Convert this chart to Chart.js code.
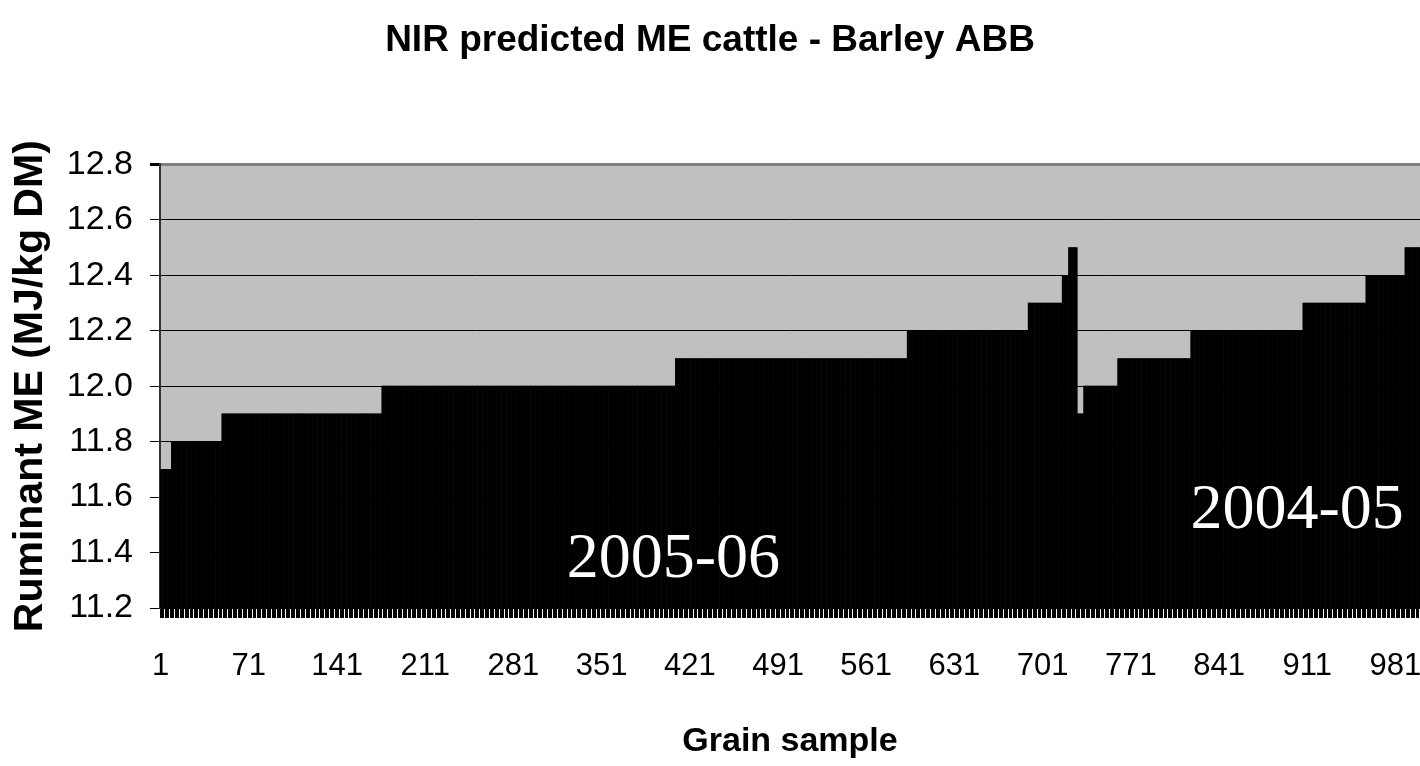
<!DOCTYPE html>
<html>
<head>
<meta charset="utf-8">
<script src="https://cdn.jsdelivr.net/npm/chart.js@4.4.1/dist/chart.umd.min.js"></script>
<style>
  html, body { margin: 0; padding: 0; background: #ffffff; }
  #wrap { width: 1420px; height: 766px; position: relative; }
</style>
</head>
<body>
<div id="wrap"><canvas id="c" width="1420" height="766"></canvas></div>
<script>
// ---- Chart text ----
const chartTitle = 'NIR predicted ME cattle - Barley ABB';
const xAxisTitle = 'Grain sample';
const yAxisTitle = 'Ruminant ME (MJ/kg DM)';

const runValues  = [11.7, 11.8, 11.9, 12.0, 12.1, 12.2, 12.3, 12.4, 12.5, 11.9, 12.0, 12.1, 12.2, 12.3, 12.4, 12.5];
const runLengths = [9,    40,   127,  233,  184,  96,   27,   5,    7,    5,    27,   58,   89,   50,   31,   12];

// ---- Tick labels ----
const xTickLabels = ['1', '71', '141', '211', '281', '351', '421', '491', '561', '631', '701', '771', '841', '911', '981'];
const yTickValues = [11.2, 11.4, 11.6, 11.8, 12.0, 12.2, 12.4, 12.6, 12.8];

// ---- Season annotations (text, sample number it is centred on, value at its baseline) ----
const seasonLabels  = ['2005-06', '2004-05'];
const seasonSamples = [408, 903];
const seasonValues  = [11.312, 11.489];

// Expand the runs into one value per grain sample
const values = [];
runValues.forEach((v, i) => { for (let k = 0; k < runLengths[i]; k++) values.push(v); });
const categories = values.map((_, i) => String(i + 1));

const plotBackground = {
  id: 'plotBackground',
  beforeDraw(chart) {
    const { ctx, chartArea: a } = chart;
    ctx.save();
    ctx.fillStyle = '#c0c0c0';
    ctx.fillRect(a.left, a.top, a.right - a.left, a.bottom - a.top);
    ctx.restore();
  }
};

const seasonText = {
  id: 'seasonText',
  afterDatasetsDraw(chart) {
    const { ctx, scales } = chart;
    ctx.save();
    ctx.fillStyle = '#ffffff';
    ctx.font = '64px "Liberation Serif", "Times New Roman", serif';
    ctx.textAlign = 'center';
    ctx.textBaseline = 'alphabetic';
    seasonLabels.forEach((t, i) => {
      const x = scales.x.getPixelForValue(seasonSamples[i] - 1);
      const y = scales.y.getPixelForValue(seasonValues[i]);
      ctx.fillText(t, x, y);
    });
    ctx.restore();
  }
};

new Chart(document.getElementById('c'), {
  type: 'bar',
  data: {
    labels: categories,
    datasets: [{
      data: values,
      backgroundColor: '#000000',
      borderWidth: 0,
      barPercentage: 1.0,
      categoryPercentage: 1.0
    }]
  },
  options: {
    responsive: false,
    devicePixelRatio: 1,
    animation: false,
    layout: { padding: 0 },
    plugins: {
      legend: { display: false },
      tooltip: { enabled: false },
      title: {
        display: true,
        text: chartTitle,
        color: '#000000',
        font: { family: '"Liberation Sans", Arial, sans-serif', size: 37, weight: 'bold', lineHeight: 1.2 },
        padding: { top: 19, bottom: 101 }
      }
    },
    scales: {
      x: {
        type: 'category',
        afterFit(scale) { scale.height = 158; },
        grid: {
          display: true,
          drawOnChartArea: false,
          drawTicks: true,
          tickLength: 10,
          color: '#000000',
          lineWidth: 1
        },
        border: { display: true, color: '#000000', width: 1 },
        ticks: {
          autoSkip: false,
          maxRotation: 0,
          minRotation: 0,
          padding: 0,
          color: '#000000',
          font: { family: '"Liberation Sans", Arial, sans-serif', size: 31, lineHeight: 3.1 },
          callback(value, index) {
            const lab = categories[index];
            return xTickLabels.includes(lab) ? lab : '';
          }
        },
        title: {
          display: true,
          text: xAxisTitle,
          color: '#000000',
          font: { family: '"Liberation Sans", Arial, sans-serif', size: 34, weight: 'bold' },
          padding: { top: 0, bottom: 4 }
        }
      },
      y: {
        type: 'linear',
        min: yTickValues[0],
        max: yTickValues[yTickValues.length - 1],
        afterFit(scale) { scale.width = 160; },
        afterBuildTicks(scale) { scale.ticks = yTickValues.map(v => ({ value: v })); },
        grid: {
          display: true,
          drawOnChartArea: true,
          drawTicks: true,
          tickLength: 10,
          color: (c) => (c.tick && c.tick.value >= 12.79) ? '#808080' : '#000000',
          lineWidth: (c) => (c.tick && c.tick.value >= 12.79) ? 3 : 1,
          tickColor: '#000000'
        },
        border: { display: true, color: '#333333', width: 2 },
        ticks: {
          padding: 17,
          color: '#000000',
          font: { family: '"Liberation Sans", Arial, sans-serif', size: 34 },
          callback: (v) => Number(v).toFixed(1)
        },
        title: {
          display: true,
          text: yAxisTitle,
          color: '#000000',
          font: { family: '"Liberation Sans", Arial, sans-serif', size: 41, weight: 'bold' },
          padding: { top: 6, bottom: 0 }
        }
      }
    }
  },
  plugins: [plotBackground, seasonText]
});
</script>
</body>
</html>
